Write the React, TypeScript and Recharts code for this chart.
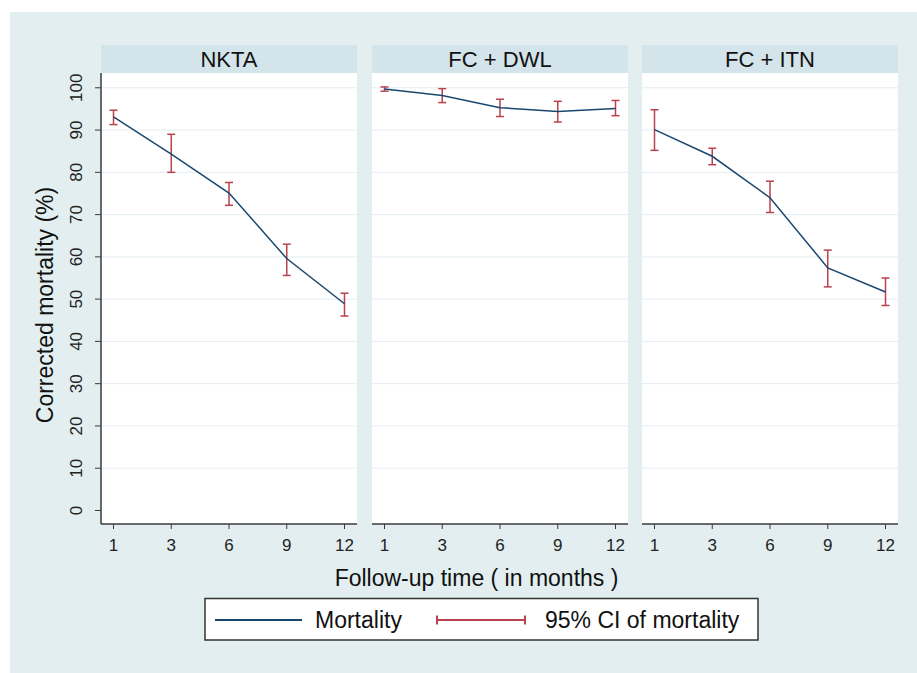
import React from "react";
import {
  LineChart,
  Line,
  XAxis,
  YAxis,
  CartesianGrid,
  ErrorBar,
} from "recharts";

const months = ["1", "3", "6", "9", "12"];
const yTicks = [0, 10, 20, 30, 40, 50, 60, 70, 80, 90, 100];
const gridTicks = [10, 20, 30, 40, 50, 60, 70, 80, 90, 100];

const nktaMean = [93.1, 84.3, 75.1, 59.6, 48.9];
const nktaLow = [91.3, 80.0, 72.2, 55.6, 46.0];
const nktaHigh = [94.7, 89.0, 77.6, 63.0, 51.4];

const dwlMean = [99.7, 98.2, 95.3, 94.4, 95.1];
const dwlLow = [99.2, 96.5, 93.2, 91.9, 93.4];
const dwlHigh = [100.2, 99.8, 97.3, 96.8, 97.0];

const itnMean = [90.1, 83.8, 74.0, 57.4, 51.7];
const itnLow = [85.2, 81.8, 70.5, 52.9, 48.5];
const itnHigh = [94.8, 85.7, 77.9, 61.6, 55.0];

const FONT = '"Liberation Sans", Arial, sans-serif';
const NAVY = "#1a476f";
const RED = "#b8434f";
const AXIS = "#3a3a3a";

function rows(mean: number[], low: number[], high: number[]) {
  return months.map((m, i) => ({
    month: m,
    mortality: mean[i],
    ci: [+(mean[i] - low[i]).toFixed(2), +(high[i] - mean[i]).toFixed(2)],
  }));
}

const panels = [
  { title: "NKTA", left: 101, data: rows(nktaMean, nktaLow, nktaHigh) },
  { title: "FC + DWL", left: 372, data: rows(dwlMean, dwlLow, dwlHigh) },
  { title: "FC + ITN", left: 642, data: rows(itnMean, itnLow, itnHigh) },
];

const YTick = (props: any) => {
  const { x, y, payload } = props;
  return (
    <text
      x={x}
      y={y}
      transform={`rotate(-90 ${x} ${y})`}
      textAnchor="middle"
      fontSize={17}
      fill="#222"
      fontFamily={FONT}
    >
      {payload.value}
    </text>
  );
};

function Panel({ data, left, first }: { data: any[]; left: number; first: boolean }) {
  const yw = first ? 45 : 0;
  return (
    <div style={{ position: "absolute", left: left - yw, top: 73 }}>
      <LineChart
        width={256 + yw}
        height={491}
        data={data}
        margin={{ top: 0, right: 0, bottom: 0, left: 0 }}
      >
        <CartesianGrid
          fill="#ffffff"
          stroke="#e3eef3"
          vertical={false}
          horizontalValues={gridTicks}
        />
        <XAxis
          dataKey="month"
          padding={{ left: 12.5, right: 12.5 }}
          height={40}
          tickSize={5}
          tickMargin={10}
          tick={{ fontSize: 17, fill: "#222", fontFamily: FONT }}
          axisLine={{ stroke: AXIS, strokeWidth: 1.5 }}
          tickLine={{ stroke: AXIS }}
        />
        <YAxis
          hide={!first}
          width={yw}
          domain={[-3.2, 103.5]}
          ticks={yTicks}
          tickSize={6}
          tickMargin={13}
          tick={<YTick />}
          axisLine={{ stroke: AXIS, strokeWidth: 1.5 }}
          tickLine={{ stroke: AXIS }}
        />
        <Line
          type="linear"
          dataKey="mortality"
          stroke={NAVY}
          strokeWidth={1.5}
          dot={false}
          isAnimationActive={false}
        >
          <ErrorBar
            dataKey="ci"
            width={4}
            stroke={RED}
            strokeWidth={1.5}
            isAnimationActive={false}
          />
        </Line>
      </LineChart>
    </div>
  );
}

export default function App() {
  return (
    <div
      style={{
        position: "absolute",
        left: 0,
        top: 0,
        width: 917,
        height: 673,
        background: "#ffffff",
        overflow: "hidden",
      }}
    >
      <div
        style={{
          position: "absolute",
          left: 10,
          top: 12,
          width: 907,
          height: 661,
          background: "#e2eef0",
        }}
      />
      {panels.map((p, i) => (
        <Panel key={p.title} data={p.data} left={p.left} first={i === 0} />
      ))}
      <svg
        width={917}
        height={673}
        style={{ position: "absolute", left: 0, top: 0, pointerEvents: "none" }}
        fontFamily={FONT}
      >
        {panels.map((p) => (
          <g key={p.title}>
            <rect x={p.left} y={45} width={256} height={28} fill="#d3e4ea" />
            <text x={p.left + 128} y={66.5} textAnchor="middle" fontSize={22} fill="#111">
              {p.title}
            </text>
          </g>
        ))}
        <text
          x={53}
          y={305}
          transform="rotate(-90 53 305)"
          textAnchor="middle"
          fontSize={23}
          fill="#111"
        >
          Corrected mortality (%)
        </text>
        <text x={476.5} y={586} textAnchor="middle" fontSize={23} fill="#111">
          Follow-up time ( in months )
        </text>
        <rect
          x={205}
          y={598.5}
          width={553}
          height={41.5}
          fill="#ffffff"
          stroke="#333"
          strokeWidth={1.5}
        />
        <line x1={215} x2={302} y1={620} y2={620} stroke={NAVY} strokeWidth={2} />
        <text x={315} y={628} fontSize={23} fill="#111">
          Mortality
        </text>
        <line x1={437} x2={525} y1={620} y2={620} stroke={RED} strokeWidth={2} />
        <line x1={437} x2={437} y1={615.5} y2={624.5} stroke={RED} strokeWidth={2} />
        <line x1={525} x2={525} y1={615.5} y2={624.5} stroke={RED} strokeWidth={2} />
        <text x={545} y={628} fontSize={23} fill="#111">
          95% CI of mortality
        </text>
      </svg>
    </div>
  );
}
